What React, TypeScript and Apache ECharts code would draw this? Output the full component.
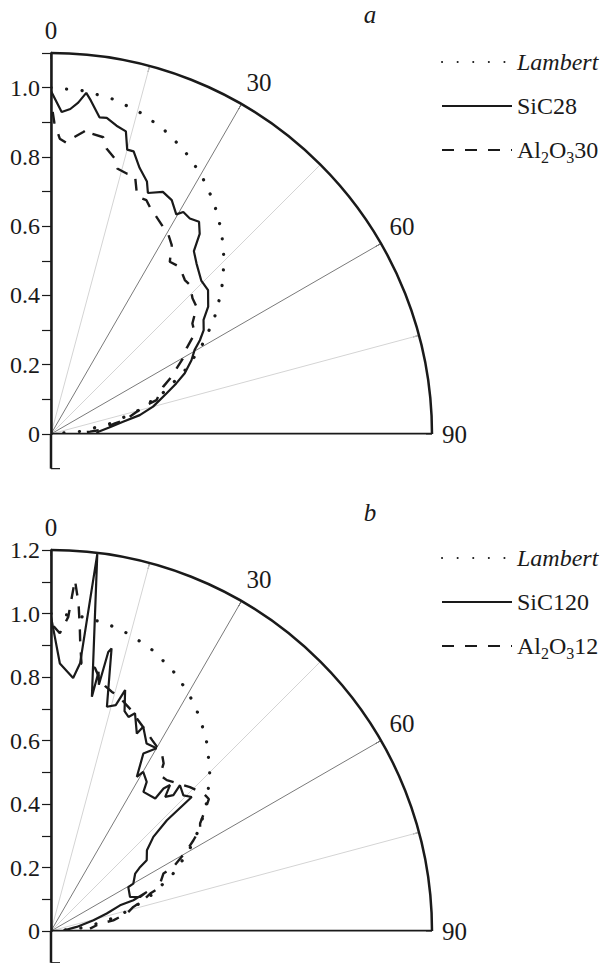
import React, { useEffect, useRef } from 'react';
import * as echarts from 'echarts';

const FONT = 'Liberation Serif, Times New Roman, serif';
const INK = '#1a1a1a';

// Angle axis: degrees from the normal (0 = up, 90 = right)
const ANGLE_MIN = 0;
const ANGLE_MAX = 90;
const ANGLE_STEP = 15;
const ANGLE_LABELS = [0, 30, 60, 90];
const RADIUS_MAX_A = 1.1;
const RADIUS_MAX_B = 1.2;

// Lambert (dotted) — same in both panels
const LAMBERT_ANGLE = [0, 5, 10, 15, 20, 25, 30, 35, 40, 45, 50, 55, 60, 65, 70, 75, 80, 85, 90];
const LAMBERT_R = [1.0, 0.996, 0.985, 0.966, 0.94, 0.906, 0.866, 0.819, 0.766, 0.707, 0.643, 0.574, 0.5, 0.423, 0.342, 0.259, 0.174, 0.087, 0.0];

// Panel a
const SIC28_ANGLE = [0, 1.9, 3.4, 4.7, 5.9, 6.8, 8.7, 10.0, 12.0, 13.9, 15.0, 16.3, 18.4, 20.8, 21.9, 24.8, 27.3, 29.7, 30.8, 32.8, 34.9, 36.6, 38.0, 40.5, 44.4, 47.5, 51.0, 53.2, 55.8, 57.8, 59.7, 62.3, 65.6, 68.0, 70.6, 75.0, 78.0, 80.3, 83.5, 87.2, 90];
const SIC28_R = [0.99, 0.93, 0.94, 0.96, 0.99, 0.97, 0.925, 0.927, 0.91, 0.9, 0.85, 0.85, 0.81, 0.78, 0.75, 0.77, 0.76, 0.73, 0.746, 0.74, 0.747, 0.72, 0.67, 0.647, 0.62, 0.615, 0.584, 0.55, 0.533, 0.508, 0.48, 0.458, 0.424, 0.39, 0.354, 0.305, 0.262, 0.211, 0.171, 0.137, 0.13];

const AL30_ANGLE = [0.3, 0.6, 1.7, 3.1, 4.0, 6.1, 7.0, 7.7, 10, 11, 13, 14, 16.2, 18.0, 19.5, 20.2, 22.2, 24.2, 25.9, 28.4, 30.3, 32.6, 34.6, 37.6, 41.0, 43.0, 46.2, 48.9, 52.0, 55.0, 57.7, 59.5, 64.6, 67.2, 72.2, 73.1, 79.3, 80.5, 85.3, 86.6, 88];
const AL30_R = [0.93, 0.9, 0.853, 0.841, 0.855, 0.877, 0.888, 0.875, 0.87, 0.84, 0.817, 0.79, 0.783, 0.785, 0.741, 0.729, 0.729, 0.708, 0.697, 0.68, 0.67, 0.647, 0.604, 0.609, 0.589, 0.588, 0.566, 0.558, 0.518, 0.507, 0.463, 0.449, 0.385, 0.351, 0.32, 0.288, 0.217, 0.187, 0.142, 0.113, 0.074];

// Panel b
const SIC120_ANGLE = [0, 1.9, 5.0, 6.2, 7.0, 9.9, 10.4, 11.0, 11.6, 12.1, 14.0, 16.0, 17.1, 18.5, 19.9, 21.1, 23.5, 24.3, 27.0, 30.0, 27.5, 29.1, 30.1, 32.7, 33.6, 38.2, 38.3, 39.2, 40.4, 42.0, 41.5, 44.3, 46.4, 46.3, 47.4, 49.9, 53.5, 54.3, 55.7, 60.1, 60.4, 66.7, 69.1, 67.8, 69.5, 69.6, 72.6, 75.8, 81, 88];
const SIC120_R = [0.99, 0.843, 0.8, 0.848, 1.196, 0.749, 0.83, 0.79, 0.897, 0.91, 0.728, 0.74, 0.794, 0.73, 0.717, 0.735, 0.678, 0.706, 0.663, 0.665, 0.63, 0.556, 0.579, 0.558, 0.526, 0.531, 0.572, 0.593, 0.555, 0.576, 0.613, 0.597, 0.612, 0.505, 0.438, 0.395, 0.375, 0.346, 0.321, 0.299, 0.28, 0.271, 0.3, 0.326, 0.277, 0.232, 0.184, 0.138, 0.082, 0.039];

const AL12_ANGLE = [0.5, 1.7, 3.15, 3.9, 4.8, 5.4, 5.8, 6.5, 9.5, 11.1, 12.5, 14.3, 16.0, 18.0, 20.0, 22.0, 25.0, 28.0, 32.0, 33.9, 35.0, 37.5, 40.0, 44.0, 47.9, 50.1, 51.9, 54.2, 55.5, 57.5, 59.3, 62.4, 62.9, 68.4, 69.3, 71.6, 73.7, 77, 80.3, 81.4, 86.5];
const AL12_R = [0.96, 0.938, 0.991, 1.108, 1.036, 0.963, 0.911, 0.848, 0.84, 0.805, 0.79, 0.777, 0.77, 0.754, 0.74, 0.722, 0.7, 0.68, 0.659, 0.636, 0.599, 0.599, 0.61, 0.63, 0.647, 0.648, 0.617, 0.579, 0.57, 0.532, 0.498, 0.435, 0.398, 0.364, 0.334, 0.307, 0.27, 0.245, 0.199, 0.156, 0.123];

const LEGEND_A = ['Lambert', 'SiC28', 'Al2O330'];
const LEGEND_B = ['Lambert', 'SiC120', 'Al2O312'];
const LEGEND_TEXT: Record<string, string> = {
  Lambert: '{it|Lambert}',
  SiC28: 'SiC28',
  Al2O330: 'Al{sub|2}O{sub|3}30',
  SiC120: 'SiC120',
  Al2O312: 'Al{sub|2}O{sub|3}12',
};

const zip = (r: number[], a: number[]) => r.map((v, i) => [v, a[i]]);

const DOTTED = { type: [0.1, 15.5] as number[], cap: 'round' as const, width: 3.2, color: INK };
const SOLID = { type: 'solid' as const, width: 2.2, color: INK };
const DASHED = { type: [12, 11] as number[], width: 2.4, color: INK };

function axesFor(idx: number, rmax: number) {
  const angleAxis = {
    polarIndex: idx,
    type: 'value',
    min: ANGLE_MIN,
    max: ANGLE_MAX,
    interval: ANGLE_STEP,
    startAngle: 90,
    endAngle: 0,
    clockwise: true,
    axisLine: { show: true, lineStyle: { color: INK, width: 2.5 } },
    axisTick: { show: true, inside: true, length: 6, lineStyle: { color: '#333', width: 1 } },
    axisLabel: {
      show: true,
      margin: 10,
      color: INK,
      fontFamily: FONT,
      fontSize: 25,
      formatter: (v: number) => (ANGLE_LABELS.indexOf(Math.round(v)) >= 0 ? String(Math.round(v)) : ''),
    },
    splitLine: {
      show: true,
      lineStyle: { color: [INK, '#d4d4d4', '#7a7a7a', '#d4d4d4', '#7a7a7a', '#d4d4d4', INK], width: 1 },
    },
  };
  const radiusAxis = {
    polarIndex: idx,
    type: 'value',
    min: 0,
    max: rmax,
    interval: 0.1,
    axisLine: { show: true, lineStyle: { color: INK, width: 2.5 } },
    axisTick: { show: true, inside: true, length: 9, lineStyle: { color: INK, width: 1.2 } },
    axisLabel: {
      show: true,
      margin: 11,
      color: INK,
      fontFamily: FONT,
      fontSize: 24,
      formatter: (v: number) => {
        const k = Math.round(v * 10);
        if (k % 2 !== 0) return '';
        return k === 0 ? '0' : (k / 10).toFixed(1);
      },
    },
    splitLine: { show: false },
  };
  return { angleAxis, radiusAxis };
}

function legendFor(data: string[], top: number) {
  return {
    data,
    orient: 'vertical',
    left: 441,
    top,
    padding: 0,
    itemWidth: 70,
    itemHeight: 14,
    itemGap: 14,
    selectedMode: false,
    itemStyle: { opacity: 0 },
    formatter: (name: string) => LEGEND_TEXT[name] ?? name,
    textStyle: {
      fontFamily: FONT,
      fontSize: 24,
      color: INK,
      lineHeight: 30,
      rich: {
        it: { fontStyle: 'italic', fontFamily: FONT, fontSize: 24, color: INK, lineHeight: 30 },
        sub: { fontFamily: FONT, fontSize: 16, color: INK, lineHeight: 14, verticalAlign: 'bottom' },
      },
    },
  };
}

function lineSeries(name: string, idx: number, r: number[], a: number[], style: any, z = 3) {
  return {
    name,
    type: 'line',
    coordinateSystem: 'polar',
    polarIndex: idx,
    data: zip(r, a),
    symbol: 'none',
    showSymbol: false,
    itemStyle: { color: INK, opacity: 0 },
    lineStyle: style,
    z,
    silent: true,
  };
}

export default function App() {
  const ref = useRef<HTMLDivElement>(null);
  useEffect(() => {
    if (!ref.current) return;
    const chart = echarts.init(ref.current, null, { renderer: 'svg' });
    const A = axesFor(0, RADIUS_MAX_A);
    const B = axesFor(1, RADIUS_MAX_B);
    const frameStyle = { color: INK, width: 2.5, type: 'solid' };
    const option: any = {
      animation: false,
      backgroundColor: '#fff',
      textStyle: { fontFamily: FONT },
      polar: [
        { center: [51, 434], radius: 381 },
        { center: [51, 931], radius: 381 },
      ],
      angleAxis: [A.angleAxis, B.angleAxis],
      radiusAxis: [A.radiusAxis, B.radiusAxis],
      legend: [legendFor(LEGEND_A, 47), legendFor(LEGEND_B, 543)],
      series: [
        lineSeries('frameA', 0, [0, RADIUS_MAX_A], [90, 90], frameStyle, 5),
        lineSeries('frameB', 1, [0, RADIUS_MAX_B], [90, 90], frameStyle, 5),
        lineSeries('Lambert', 0, LAMBERT_R, LAMBERT_ANGLE, DOTTED),
        lineSeries('SiC28', 0, SIC28_R, SIC28_ANGLE, SOLID),
        lineSeries('Al2O330', 0, AL30_R, AL30_ANGLE, DASHED),
        lineSeries('Lambert', 1, LAMBERT_R, LAMBERT_ANGLE, DOTTED),
        lineSeries('SiC120', 1, SIC120_R, SIC120_ANGLE, SOLID),
        lineSeries('Al2O312', 1, AL12_R, AL12_ANGLE, DASHED),
      ],
    };
    chart.setOption(option);

    // Radius axis continues a little below the origin (to -0.1) with a tick
    const ext = (idx: number, rmax: number, cx: number, cy: number) => {
      let o = [cx, cy];
      let p1 = [cx, cy - 381 / rmax];
      try {
        const a = chart.convertToPixel({ polarIndex: idx } as any, [0, 0]) as any;
        const b = chart.convertToPixel({ polarIndex: idx } as any, [1, 0]) as any;
        if (a && b && isFinite(a[0]) && isFinite(b[1])) { o = a; p1 = b; }
      } catch (e) { /* keep fallback */ }
      const d = 0.1 * Math.abs(o[1] - p1[1]);
      return [
        { type: 'line', shape: { x1: o[0], y1: o[1], x2: o[0], y2: o[1] + d }, style: { stroke: INK, lineWidth: 2.5 }, z: 10 },
        { type: 'line', shape: { x1: o[0], y1: o[1] + d, x2: o[0] + 9, y2: o[1] + d }, style: { stroke: INK, lineWidth: 1.2 }, z: 10 },
      ];
    };
    chart.setOption({
      graphic: [
        ...ext(0, RADIUS_MAX_A, 51, 434),
        ...ext(1, RADIUS_MAX_B, 51, 931),
        { type: 'text', x: 370, y: 14, style: { text: 'a', font: `italic 25px ${FONT}`, fill: INK, textAlign: 'center', textVerticalAlign: 'middle' } },
        { type: 'text', x: 370, y: 512, style: { text: 'b', font: `italic 25px ${FONT}`, fill: INK, textAlign: 'center', textVerticalAlign: 'middle' } },
      ],
    });
    return () => chart.dispose();
  }, []);
  return <div ref={ref} style={{ position: 'absolute', left: 0, top: 0, width: 613, height: 963 }} />;
}
